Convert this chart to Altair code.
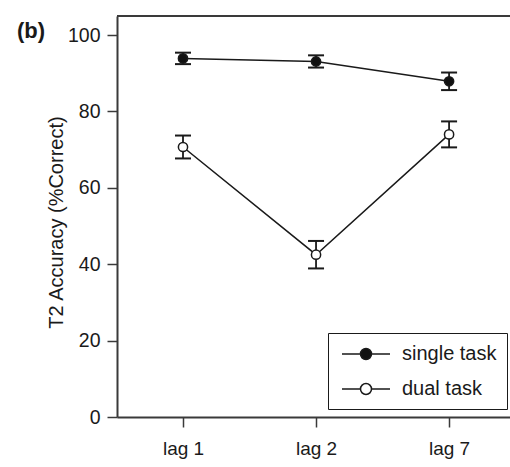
import altair as alt
import pandas as pd

lags = ["lag 1", "lag 2", "lag 7"]
conditions = ["single task", "dual task"]
single_mean = [93.9, 93.1, 87.9]
single_err = [1.5, 1.6, 2.3]
dual_mean = [70.7, 42.5, 74.0]
dual_err = [3.0, 3.6, 3.4]

rows = []
for cond, means, errs in [("single task", single_mean, single_err), ("dual task", dual_mean, dual_err)]:
    for lag, m, e in zip(lags, means, errs):
        rows.append({"lag": lag, "cond": cond, "mean": m, "lo": m - e, "hi": m + e})
df = pd.DataFrame(rows)

FONT = "Liberation Sans"
INK = "#1a1a1a"
AX = "#3a3a3a"
W, H = 393, 401

x_enc = alt.X("lag:N", sort=lags,
              scale=alt.Scale(type="point", padding=0.477, align=0.52),
              axis=alt.Axis(title=None, labelAngle=0, labelFontSize=19, labelFont=FONT,
                            labelColor=INK, labelPadding=12, tickSize=10, tickWidth=1.5,
                            tickColor=AX, domainColor=AX, domainWidth=2, grid=False))
y_scale = alt.Scale(domain=[0, 105], nice=False, zero=True)
y_axis = alt.Axis(title="T2 Accuracy (%Correct)", values=[0, 20, 40, 60, 80, 100],
                  labelFontSize=19.5, labelFont=FONT, labelColor=INK, labelPadding=7,
                  tickSize=10, tickWidth=1.5, tickColor=AX, domainColor=AX,
                  domainWidth=2, grid=False, titleFontSize=20, titleFont=FONT,
                  titleFontWeight="normal", titleColor=INK, titleAngle=270,
                  titleBaseline="alphabetic", titleAlign="center", titleX=-55, titleY=206)

base = alt.Chart(df)

lines = base.mark_line(color=INK, strokeWidth=1.5).encode(
    x=x_enc, y=alt.Y("mean:Q", scale=y_scale, axis=y_axis), detail="cond:N")

bars = base.mark_rule(color=INK, strokeWidth=1.8).encode(
    x=alt.X("lag:N", sort=lags), y=alt.Y("lo:Q"), y2="hi:Q")

caps_lo = base.mark_tick(color=INK, size=16, thickness=2, opacity=1).encode(
    x=alt.X("lag:N", sort=lags), y=alt.Y("lo:Q"))
caps_hi = base.mark_tick(color=INK, size=16, thickness=2, opacity=1).encode(
    x=alt.X("lag:N", sort=lags), y=alt.Y("hi:Q"))

sym = "M-2.4,0L-0.55,0M0.55,0L2.4,0M0.55,0A0.55,0.55,0,1,1,-0.55,0A0.55,0.55,0,1,1,0.55,0Z"

points = base.mark_point(filled=True, size=85, stroke=INK, strokeWidth=1.5, opacity=1).encode(
    x=alt.X("lag:N", sort=lags), y=alt.Y("mean:Q"),
    fill=alt.Fill("cond:N",
                  scale=alt.Scale(domain=conditions, range=["#111111", "#ffffff"]),
                  legend=alt.Legend(title=None, orient="none", legendX=211, legendY=317,
                                    symbolType=sym, symbolSize=400,
                                    symbolStrokeColor=INK, symbolStrokeWidth=1.5,
                                    symbolOffset=17, labelOffset=25,
                                    labelFontSize=20, labelFont=FONT, labelColor=INK,
                                    padding=10, rowPadding=14, strokeColor=INK)))

frame_top = base.mark_rule(color=AX, strokeWidth=2).encode(
    x=alt.value(0), x2=alt.value(W), y=alt.value(0))

chart = alt.layer(frame_top, lines, bars, caps_lo, caps_hi, points).properties(
    width=W, height=H,
    autosize=alt.AutoSizeParams(type="none"),
    padding={"left": 117, "top": 16, "right": 0, "bottom": 50},
    title=alt.TitleParams(text="(b)", anchor="start", frame="group", dx=-100, dy=45,
                          offset=0, baseline="alphabetic", fontSize=22, fontWeight="bold",
                          font=FONT, color=INK),
).configure_view(stroke=None).configure(background="white")

chart.save("out.html", embed_options={"renderer": "svg", "actions": False})
